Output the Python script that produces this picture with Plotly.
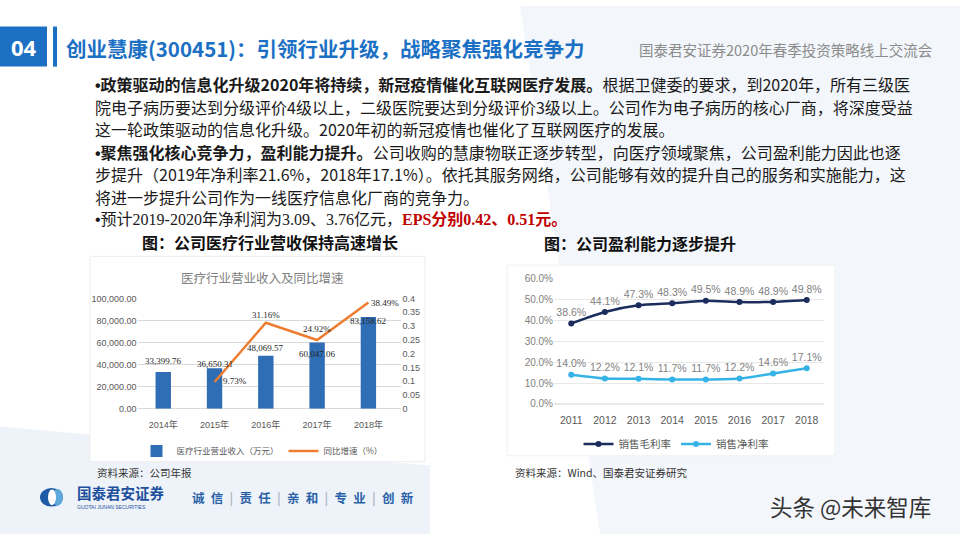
import plotly.graph_objects as go

W, H = 960, 540


def px(x):
    return x / W


def py(y):
    return 1 - y / H


# ---------------- data ----------------
left_years = ["2014年", "2015年", "2016年", "2017年", "2018年"]
revenue = [33399.76, 36650.31, 48069.57, 60047.06, 83158.62]
growth = [None, 0.0973, 0.3116, 0.2492, 0.3849]
growth_labels = [None, "9.73%", "31.16%", "24.92%", "38.49%"]

right_years = ["2011", "2012", "2013", "2014", "2015", "2016", "2017", "2018"]
gross_margin = [0.386, 0.441, 0.473, 0.483, 0.495, 0.489, 0.489, 0.498]
net_margin = [0.140, 0.122, 0.121, 0.117, 0.117, 0.122, 0.146, 0.171]

# label offsets (styles, px)
rev_label_shift = [11, 4, 8, -12, -4]
growth_label_shift = [None, (20, 1), (0, 8), (0, 11), (17, 0)]

CJK = "Noto Sans CJK SC"
BLUE = "#1c70c4"
BULLET = "<span style='font-family:Liberation Sans'>•</span>"

fig = go.Figure()

fig.add_trace(go.Bar(
    x=left_years, y=revenue, name="医疗行业营业收入（万元）",
    marker=dict(color="#2f6db5", line=dict(width=0)), width=0.3,
    xaxis="x", yaxis="y", legend="legend", hoverinfo="skip"))
fig.add_trace(go.Scatter(
    x=left_years, y=growth, mode="lines", name="同比增速（%）",
    line=dict(color="#ed7d31", width=2.5), connectgaps=False,
    xaxis="x", yaxis="y2", legend="legend", hoverinfo="skip"))

fig.add_trace(go.Scatter(
    x=right_years, y=gross_margin, mode="lines+markers+text", name="销售毛利率",
    text=[f"{v*100:.1f}%" for v in gross_margin], textposition="top center",
    textfont=dict(size=10.5, color="#7f7f7f", family="Liberation Sans"),
    line=dict(color="#1b2d5c", width=2.5, shape="spline", smoothing=0.6),
    marker=dict(size=6, color="#1b2d5c"), cliponaxis=False,
    xaxis="x2", yaxis="y3", legend="legend2", hoverinfo="skip"))
fig.add_trace(go.Scatter(
    x=right_years, y=net_margin, mode="lines+markers+text", name="销售净利率",
    text=[f"{v*100:.1f}%" for v in net_margin], textposition="top center",
    textfont=dict(size=10.5, color="#7f7f7f", family="Liberation Sans"),
    line=dict(color="#35b2e6", width=2.5, shape="spline", smoothing=0.6),
    marker=dict(size=6, color="#35b2e6"), cliponaxis=False,
    xaxis="x2", yaxis="y3", legend="legend2", hoverinfo="skip"))

annotations = []


def note(x, y, text, size, color="#1a1a1a", xanchor="left", family=CJK, **kw):
    annotations.append(dict(x=px(x), y=py(y), xref="paper", yref="paper", text=text,
                            showarrow=False, xanchor=xanchor, yanchor="middle",
                            font=dict(size=size, color=color, family=family), **kw))


# bar labels
for i, v in enumerate(revenue):
    annotations.append(dict(x=left_years[i], y=v, xref="x", yref="y",
                            text=f"{v:,.2f}", showarrow=False, yanchor="middle",
                            yshift=rev_label_shift[i],
                            font=dict(size=9, color="#262626", family="Liberation Serif")))
# growth labels
for i, v in enumerate(growth):
    if v is None:
        continue
    dx, dy = growth_label_shift[i]
    annotations.append(dict(x=left_years[i], y=v, xref="x", yref="y2",
                            text=growth_labels[i], showarrow=False, yanchor="middle",
                            xshift=dx, yshift=dy,
                            font=dict(size=9, color="#262626", family="Liberation Serif")))

# header
note(23.5, 42, "<b>04</b>", 22, color="white", xanchor="center", family="Noto Sans")
note(64, 43, "<b>创业慧康(300451)：引领行业升级，战略聚焦强化竞争力</b>", 20.5, color=BLUE)
note(934, 44, "国泰君安证券2020年春季投资策略线上交流会", 14.5, color="#8c8c8c", xanchor="right")

# body text
TXT = "#1a1a1a"
note(93, 80, "<b>" + BULLET + "政策驱动的信息化升级2020年将持续，新冠疫情催化互联网医疗发展。</b>根据卫健委的要求，到2020年，所有三级医", 16, TXT)
note(93, 103, "院电子病历要达到分级评价4级以上，二级医院要达到分级评价3级以上。公司作为电子病历的核心厂商，将深度受益", 16, TXT)
note(93, 126, "这一轮政策驱动的信息化升级。2020年初的新冠疫情也催化了互联网医疗的发展。", 16, TXT)
note(93, 149, "<b>" + BULLET + "聚焦强化核心竞争力，盈利能力提升。</b>公司收购的慧康物联正逐步转型，向医疗领域聚焦，公司盈利能力因此也逐", 16, TXT)
note(93, 172, "步提升（2019年净利率21.6%，2018年17.1%）。依托其服务网络，公司能够有效的提升自己的服务和实施能力，这", 16, TXT)
note(93, 195, "将进一步提升公司作为一线医疗信息化厂商的竞争力。", 16, TXT)
note(93, 218, BULLET + "预计2019-2020年净利润为3.09、3.76亿元，<span style='color:#c00000'><b>EPS分别0.42、0.51元。</b></span>",
     16, TXT, family="Liberation Serif, " + CJK)

# captions
note(270, 241, "<b>图：公司医疗行业营收保持高速增长</b>", 16, "#111111", xanchor="center")
note(640, 242, "<b>图：公司盈利能力逐步提升</b>", 16, "#111111", xanchor="center")
note(262, 278, "医疗行业营业收入及同比增速", 12.5, "#808080", xanchor="center")

# sources & footer
note(95, 477, "资料来源：公司年报", 10.5, "#333333")
note(513, 477, "资料来源：Wind、国泰君安证券研究", 10.5, "#333333")
note(75, 498, "<b>国泰君安证券</b>", 14.5, "#1d4f9c")
note(75, 512, "GUOTAI JUNAN SECURITIES", 5, "#1d4f9c", family="Liberation Sans")
bar_sep = "<span style='color:#b0b8c4'>|</span>"
slogan = ("<b>诚\u2002信\u2002" + bar_sep + "\u2002责\u2002任\u2002" + bar_sep + "\u2002亲\u2002和\u2002" +
          bar_sep + "\u2002专\u2002业\u2002" + bar_sep + "\u2002创\u2002新</b>")
note(190, 503, slogan, 12.5, "#2a62a8")
note(768, 511, "头条 @未来智库", 22.5, "#333333")

shapes = [
    # faint background tints
    dict(type="path", path=f"M {px(520)},{py(0)} L 1,{py(0)} L 1,0 L {px(600)},0 Z",
         xref="paper", yref="paper", fillcolor="#f3f6fb", line=dict(width=0), layer="below"),
    dict(type="path", path=f"M 0,{py(430)} L {px(430)},{py(470)} L {px(430)},0 L 0,0 Z",
         xref="paper", yref="paper", fillcolor="#eef3f9", line=dict(width=0), layer="below"),
    # chart panels
    dict(type="rect", x0=px(90), x1=px(425), y0=py(466), y1=py(256), xref="paper", yref="paper",
         fillcolor="white", line=dict(color="#eeeeee", width=1), layer="below"),
    dict(type="rect", x0=px(507), x1=px(835), y0=py(460), y1=py(265), xref="paper", yref="paper",
         fillcolor="white", line=dict(color="#f0f0f0", width=1), layer="below"),
    # header blocks
    dict(type="rect", x0=0, x1=px(47), y0=py(62), y1=py(21), xref="paper", yref="paper",
         fillcolor=BLUE, line=dict(width=0)),
    dict(type="rect", x0=px(53), x1=px(57), y0=py(62), y1=py(21), xref="paper", yref="paper",
         fillcolor=BLUE, line=dict(width=0)),
    # logo
    dict(type="circle", x0=px(40), x1=px(63), y0=py(512), y1=py(493), xref="paper", yref="paper",
         fillcolor="#1f5aa6", line=dict(width=0)),
    dict(type="circle", x0=px(52), x1=px(63), y0=py(511), y1=py(494), xref="paper", yref="paper",
         fillcolor="#5fa8dc", line=dict(width=0)),
    dict(type="circle", x0=px(48), x1=px(56), y0=py(510.5), y1=py(494.5), xref="paper", yref="paper",
         fillcolor="white", line=dict(width=0)),
]

axis_font_l = dict(size=9, color="#595959", family="Liberation Sans, " + CJK)
fig.update_layout(
    width=W, height=H, margin=dict(l=0, r=0, t=0, b=0),
    paper_bgcolor="white", plot_bgcolor="rgba(0,0,0,0)",
    showlegend=True,
    xaxis=dict(domain=[px(137.6), px(401.4)], anchor="y", type="category",
               tickfont=axis_font_l, showgrid=False, showline=False, ticks="",
               ticklabelstandoff=9),
    yaxis=dict(domain=[py(412), py(299)], anchor="x", range=[0, 100000], dtick=20000,
               tickformat=",.2f", tickfont=axis_font_l, gridcolor="#d9d9d9", gridwidth=1,
               zeroline=True, zerolinecolor="#d9d9d9", zerolinewidth=1, showline=False, ticks=""),
    yaxis2=dict(overlaying="y", side="right", anchor="x", range=[0, 0.4], dtick=0.05,
                tickfont=axis_font_l, showgrid=False, zeroline=False, showline=False, ticks=""),
    xaxis2=dict(domain=[px(554), px(824)], anchor="y3", type="category",
                tickfont=dict(size=10.5, color="#595959", family="Liberation Sans"),
                showgrid=False, showline=False, ticks="", ticklabelstandoff=9),
    yaxis3=dict(domain=[py(407), py(279)], anchor="x2", range=[0, 0.6], dtick=0.1,
                tickformat=".1%", tickfont=dict(size=10, color="#7f7f7f", family="Liberation Sans"),
                gridcolor="#e8e8e8", zeroline=True, zerolinecolor="#e8e8e8", showline=False, ticks=""),
    legend=dict(orientation="h", x=px(262), xanchor="center", y=py(455), yanchor="middle",
                font=dict(size=8.5, color="#595959", family=CJK), bgcolor="rgba(0,0,0,0)",
                itemwidth=30, tracegroupgap=0),
    legend2=dict(orientation="h", x=px(676), xanchor="center", y=py(448), yanchor="middle",
                 font=dict(size=10.5, color="#595959", family=CJK), bgcolor="rgba(0,0,0,0)",
                 itemwidth=30),
    annotations=annotations,
    shapes=shapes,
)

fig.write_html("out.html")
